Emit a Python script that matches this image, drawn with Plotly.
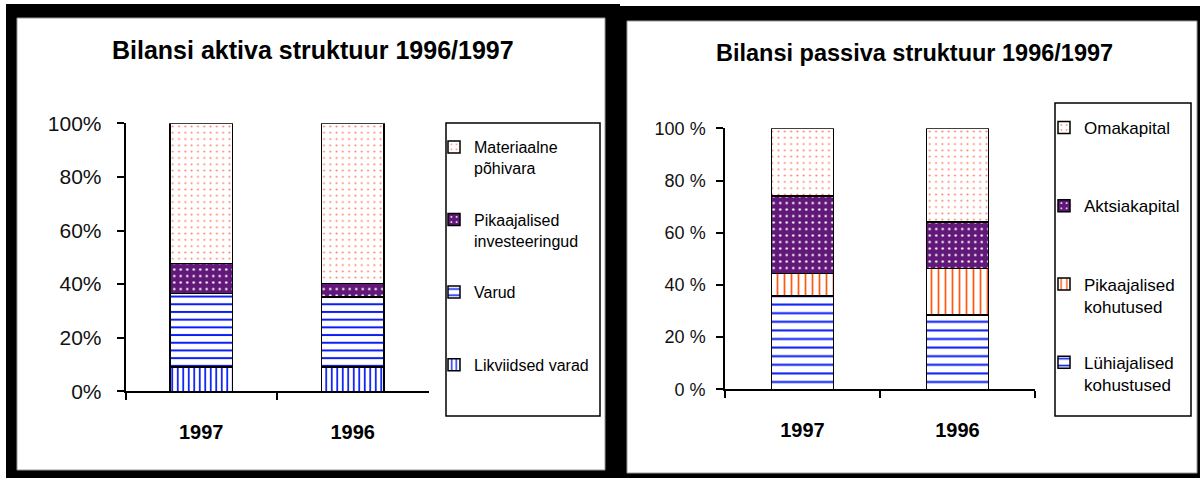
import plotly.graph_objects as go

# ---- data ----
years = ["1997", "1996"]

aktiva_names = ["Likviidsed varad", "Varud", "Pikaajalised investeeringud", "Materiaalne põhivara"]
likviidsed_varad = [9.1, 9.1]
varud = [27.4, 26.0]
pikaajalised_investeeringud = [11.2, 5.2]
materiaalne_pohivara = [52.3, 59.7]

passiva_names = ["Lühiajalised kohustused", "Pikaajalised kohutused", "Aktsiakapital", "Omakapital"]
luhiajalised_kohustused = [35.7, 28.5]
pikaajalised_kohutused = [8.7, 17.7]
aktsiakapital = [29.7, 17.9]
omakapital = [25.9, 35.9]

y_ticks = [0, 20, 40, 60, 80, 100]
y_labels_left = ["0%", "20%", "40%", "60%", "80%", "100%"]
y_labels_right = ["0 %", "20 %", "40 %", "60 %", "80 %", "100 %"]
grid_ticks = [20, 40, 60, 80]

title_left = "Bilansi aktiva struktuur 1996/1997"
title_right = "Bilansi passiva struktuur 1996/1997"

# ---- styling ----
W, H = 1200, 478
FONT = "Liberation Sans, Arial, sans-serif"
PURPLE = "#611878"
SALMON = "#ff6a50"
BLUE = "#0a1ef5"
ORANGE = "#ff5a14"


def px(x):
    return x / W


def py(y):
    return 1 - y / H


fig = go.Figure()

left_legend_labels = {
    "Likviidsed varad": "Likviidsed varad<br>\u00a0",
    "Varud": "Varud<br>\u00a0",
    "Pikaajalised investeeringud": "Pikaajalised<br>investeeringud",
    "Materiaalne põhivara": "Materiaalne<br>põhivara",
}
right_legend_labels = {
    "Lühiajalised kohustused": "Lühiajalised<br>kohustused",
    "Pikaajalised kohutused": "Pikaajalised<br>kohutused",
    "Aktsiakapital": "Aktsiakapital<br>\u00a0",
    "Omakapital": "Omakapital<br>\u00a0",
}

left_patterns = [
    dict(shape="|", fgcolor=BLUE, bgcolor="white", size=5.5, solidity=0.32, fgopacity=1),
    dict(shape="-", fgcolor=BLUE, bgcolor="white", size=7.7, solidity=0.26, fgopacity=1),
    dict(shape=".", fgcolor="white", bgcolor=PURPLE, size=6.5, solidity=0.11, fgopacity=1),
    dict(shape=".", fgcolor=SALMON, bgcolor="white", size=6.3, solidity=0.08, fgopacity=0.9),
]
right_patterns = [
    dict(shape="-", fgcolor=BLUE, bgcolor="white", size=8.6, solidity=0.24, fgopacity=1),
    dict(shape="|", fgcolor=ORANGE, bgcolor="white", size=7.0, solidity=0.25, fgopacity=1),
    dict(shape=".", fgcolor="white", bgcolor=PURPLE, size=6.5, solidity=0.11, fgopacity=1),
    dict(shape=".", fgcolor=SALMON, bgcolor="white", size=6.3, solidity=0.08, fgopacity=0.9),
]

left_values = [likviidsed_varad, varud, pikaajalised_investeeringud, materiaalne_pohivara]
right_values = [luhiajalised_kohustused, pikaajalised_kohutused, aktsiakapital, omakapital]

for i, (name, vals, pat) in enumerate(zip(aktiva_names, left_values, left_patterns)):
    fig.add_trace(go.Bar(
        x=years, y=vals, name=left_legend_labels[name], legendgroup="L" + name,
        legendrank=10 - i, legend="legend", xaxis="x", yaxis="y", width=0.41,
        marker=dict(color="white", pattern=pat, line=dict(color="black", width=1.5)),
    ))

for i, (name, vals, pat) in enumerate(zip(passiva_names, right_values, right_patterns)):
    fig.add_trace(go.Bar(
        x=years, y=vals, name=right_legend_labels[name], legendgroup="R" + name,
        legendrank=10 - i, legend="legend2", xaxis="x2", yaxis="y2", width=0.40,
        marker=dict(color="white", pattern=pat, line=dict(color="black", width=1.5)),
    ))

xcommon = dict(
    type="category", tickson="boundaries", ticks="outside", ticklen=7, tickwidth=1.5,
    tickcolor="black", showline=True, linecolor="black", linewidth=1.5, showgrid=False,
    tickfont=dict(family=FONT, size=20, color="black", weight="bold"), ticklabelstandoff=22,
    fixedrange=True, automargin=False,
)
ycommon = dict(
    range=[0, 100], tickvals=y_ticks, ticks="outside", ticklen=7, tickwidth=1.5,
    tickcolor="black", showline=True, linecolor="black", linewidth=1.5, showgrid=False,
    zeroline=False, fixedrange=True, automargin=False,
)
# overlay axes that only carry the black gridlines (20-80 %) and the grey top border
ygrid = dict(
    range=[0, 100], tickvals=grid_ticks, showticklabels=False, ticks="", showline=False,
    showgrid=True, gridcolor="black", gridwidth=1.5, zeroline=False, fixedrange=True,
    automargin=False,
)
xtop = dict(
    showline=True, linecolor="#a0a0a0", linewidth=1.5, side="top", ticks="",
    showticklabels=False, showgrid=False, zeroline=False, layer="below traces",
    range=[-0.5, 1.5], fixedrange=True, automargin=False,
)

fig.update_layout(
    width=W, height=H, autosize=False,
    margin=dict(l=0, r=0, t=0, b=0, pad=0, autoexpand=False),
    paper_bgcolor="white", plot_bgcolor="white",
    barmode="stack",
    xaxis=dict(domain=[px(125.5), px(428.5)], anchor="y", **xcommon),
    yaxis=dict(domain=[py(391.3), py(123.3)], anchor="x", ticktext=y_labels_left,
               tickfont=dict(family=FONT, size=21, color="#111111"), ticklabelstandoff=11,
               **ycommon),
    xaxis2=dict(domain=[px(725), px(1035)], anchor="y2", **xcommon),
    yaxis2=dict(domain=[py(389.3), py(128.3)], anchor="x2", ticktext=y_labels_right,
                tickfont=dict(family=FONT, size=18, color="#111111"), ticklabelstandoff=7,
                **ycommon),
    yaxis3=dict(overlaying="y", anchor="x", **ygrid),
    yaxis4=dict(overlaying="y2", anchor="x2", **ygrid),
    xaxis3=dict(overlaying="x", anchor="y", **xtop),
    xaxis4=dict(overlaying="x2", anchor="y2", **xtop),
    legend=dict(
        x=px(434), y=py(130), xanchor="left", yanchor="top",
        bgcolor="rgba(0,0,0,0)", borderwidth=0, traceorder="grouped",
        tracegroupgap=28, valign="top", font=dict(family=FONT, size=16, color="black"),
    ),
    legend2=dict(
        x=px(1044), y=py(110), xanchor="left", yanchor="top",
        bgcolor="rgba(0,0,0,0)", borderwidth=0, traceorder="grouped",
        tracegroupgap=31, valign="top", font=dict(family=FONT, size=17, color="black"),
    ),
    showlegend=True,
)

shapes = [
    # panel frames
    dict(type="rect", xref="paper", yref="paper", x0=px(6), x1=px(620), y0=py(478), y1=py(4),
         fillcolor="black", line=dict(width=0), layer="below"),
    dict(type="rect", xref="paper", yref="paper", x0=px(617), x1=px(1200), y0=py(478), y1=py(6),
         fillcolor="black", line=dict(width=0), layer="below"),
    dict(type="rect", xref="paper", yref="paper", x0=px(17), x1=px(605), y0=py(470), y1=py(18),
         fillcolor="white", line=dict(color="#9a9a9a", width=1), layer="below"),
    dict(type="rect", xref="paper", yref="paper", x0=px(627), x1=px(1197), y0=py(473), y1=py(21),
         fillcolor="white", line=dict(color="#9a9a9a", width=1), layer="below"),
    # legend boxes
    dict(type="rect", xref="paper", yref="paper", x0=px(446), x1=px(600), y0=py(416), y1=py(123),
         fillcolor="rgba(0,0,0,0)", line=dict(color="black", width=1.5), layer="above"),
    dict(type="rect", xref="paper", yref="paper", x0=px(1055), x1=px(1191), y0=py(416), y1=py(103),
         fillcolor="rgba(0,0,0,0)", line=dict(color="black", width=1.5), layer="above"),
]
fig.update_layout(shapes=shapes)

fig.add_annotation(x=px(313), y=py(50), xref="paper", yref="paper", text=title_left,
                   showarrow=False, xanchor="center", yanchor="middle",
                   font=dict(family=FONT, size=25, color="black", weight="bold"))
fig.add_annotation(x=px(914), y=py(53), xref="paper", yref="paper", text=title_right,
                   showarrow=False, xanchor="center", yanchor="middle",
                   font=dict(family=FONT, size=23.5, color="black", weight="bold"))

fig.write_html(
    "out.html",
    config={"displayModeBar": False, "responsive": False},
    post_script="document.body.style.margin='0';",
)
